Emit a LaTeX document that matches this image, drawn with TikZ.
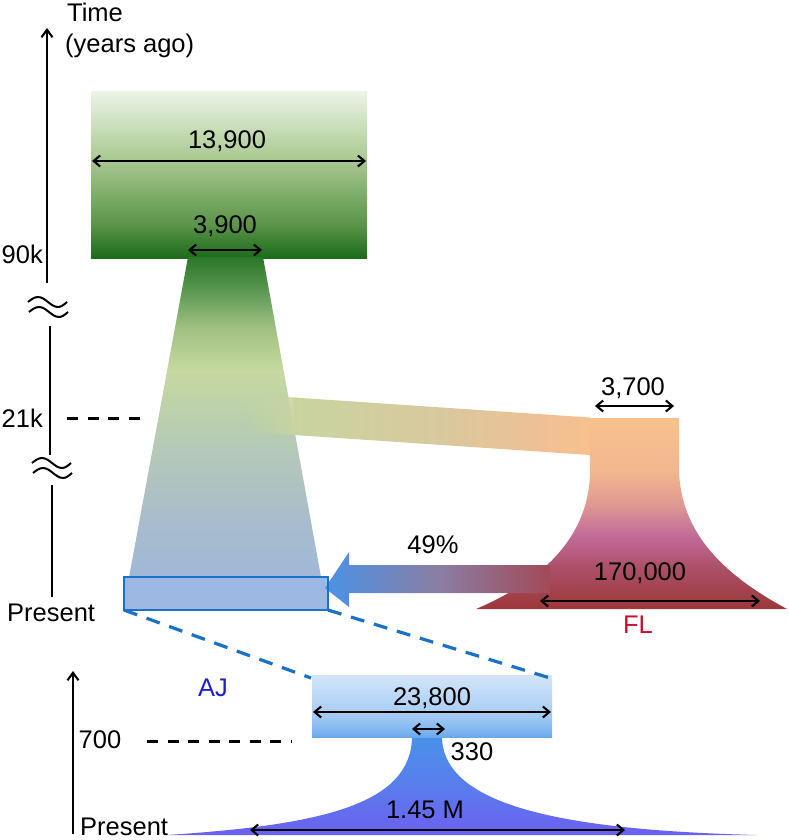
\documentclass[tikz,border=0pt]{standalone}
\usepackage{fontspec}
\setmainfont{Liberation Sans}
\usetikzlibrary{arrows.meta,fadings}
\definecolor{tbA}{HTML}{1B6B1B}
\definecolor{tbB}{HTML}{5A9448}
\definecolor{tbC}{HTML}{A8C890}
\definecolor{tbD}{HTML}{ECF3E6}
\definecolor{trA}{HTML}{9CB7E0}
\definecolor{trB}{HTML}{A8BCCC}
\definecolor{trC}{HTML}{B7CCB2}
\definecolor{trD}{HTML}{C6D9A0}
\definecolor{trE}{HTML}{A0C080}
\definecolor{trF}{HTML}{5E9A55}
\definecolor{trG}{HTML}{2A7628}
\definecolor{bandA}{HTML}{C4D4A4}
\definecolor{bandB}{HTML}{C8D4A0}
\definecolor{bandC}{HTML}{D9C89E}
\definecolor{bandD}{HTML}{EFC095}
\definecolor{bandE}{HTML}{F7C08E}
\definecolor{flA}{HTML}{F7C08E}
\definecolor{flB}{HTML}{F3B88E}
\definecolor{flC}{HTML}{E09A92}
\definecolor{flD}{HTML}{C26A98}
\definecolor{flE}{HTML}{AC5068}
\definecolor{flF}{HTML}{9C3838}
\definecolor{arA}{HTML}{4A92E6}
\definecolor{arB}{HTML}{8A7EA4}
\definecolor{arC}{HTML}{A24A58}
\definecolor{boxfill}{HTML}{9DB9E3}
\definecolor{boxblue}{HTML}{1A72C8}
\definecolor{lrA}{HTML}{D2E5FA}
\definecolor{lrB}{HTML}{AACDF3}
\definecolor{lrC}{HTML}{86BBF0}
\definecolor{lrD}{HTML}{6AA8EC}
\definecolor{nkA}{HTML}{4892E8}
\definecolor{nkB}{HTML}{5A7DED}
\definecolor{nkC}{HTML}{6B60F0}
\definecolor{ajblue}{HTML}{1E1ED2}
\definecolor{flred}{HTML}{C8102E}
\pgfdeclareverticalshading{topbox}{100bp}{color(0bp)=(tbA); color(25bp)=(tbA); color(35bp)=(tbB); color(54.5bp)=(tbC); color(75bp)=(tbD); color(100bp)=(tbD)}
\pgfdeclareverticalshading{trapez}{100bp}{color(0bp)=(trA); color(25bp)=(trA); color(37.5bp)=(trB); color(50bp)=(trC); color(59bp)=(trD); color(65bp)=(trE); color(70bp)=(trF); color(75bp)=(trG); color(100bp)=(trG)}
\pgfdeclarehorizontalshading{bandsh}{100bp}{color(0bp)=(bandB); color(25bp)=(bandB); color(50bp)=(bandC); color(66bp)=(bandD); color(75bp)=(bandE); color(100bp)=(bandE)}
\pgfdeclareverticalshading{flsh}{100bp}{color(0bp)=(flF); color(25bp)=(flF); color(36bp)=(flE); color(44bp)=(flD); color(52.5bp)=(flC); color(61.5bp)=(flB); color(75bp)=(flA); color(100bp)=(flA)}
\pgfdeclarehorizontalshading{arrsh}{100bp}{color(0bp)=(arA); color(25bp)=(arA); color(50bp)=(arB); color(75bp)=(arC); color(100bp)=(arC)}
\pgfdeclareverticalshading{lowsh}{100bp}{color(0bp)=(lrD); color(25bp)=(lrD); color(32.5bp)=(lrC); color(45bp)=(lrB); color(75bp)=(lrA); color(100bp)=(lrA)}
\pgfdeclareverticalshading{necksh}{100bp}{color(0bp)=(nkC); color(25bp)=(nkC); color(50bp)=(nkB); color(75bp)=(nkA); color(100bp)=(nkA)}
\tikzfading[name=bandfade, left color=transparent!100, right color=transparent!0]
\tikzset{
  dim/.style={line width=2.1pt, {Straight Barb[length=6.5pt,width=11pt]}-{Straight Barb[length=6.5pt,width=11pt]}},
  axisarrow/.style={line width=2.1pt, -{Straight Barb[length=7.5pt,width=11pt]}},
  axisline/.style={line width=2.1pt},
  wave/.style={line width=2pt},
  lbl/.style={font=\fontsize{25.5}{30}\selectfont, inner sep=0pt},
  blackdash/.style={line width=3pt, dash pattern=on 11pt off 9.5pt},
  bluedash/.style={line width=3.2pt, draw=boxblue, dash pattern=on 14pt off 10pt},
}
\begin{document}
\begin{tikzpicture}[x=1pt,y=-1pt]
\useasboundingbox (0,0) rectangle (788,840);
% ancestral population
\shade[shading=topbox] (91,92) rectangle (367,258);
\shade[shading=trapez] (188,257) -- (263,257) -- (327,610) -- (123,610) -- cycle;
% migration band towards FL
\shade[left color=bandA, right color=bandB, path fading=bandfade] (240,394) -- (297,397.7) -- (297,435.1) -- (240,431.5) -- cycle;
\shade[shading=bandsh] (294,397.5) -- (590,417.5) -- (590,455) -- (294,435) -- cycle;
% FL population
\shade[shading=flsh] (589,418) -- (679,418) -- (679,473) .. controls (682,520) and (705,565) .. (787,609) -- (476,609) .. controls (563,572) and (590,520) .. (590,470) -- cycle;
% AJ present box fill
\fill[boxfill] (124,577) rectangle (328,610);
% admixture arrow
\shade[shading=arrsh] (325,588) -- (349,552) -- (349,565) -- (550,565) -- (550,593) -- (349,593) -- (349,607) -- cycle;
% box outline
\node[draw=boxblue, line width=2.8pt, minimum width=204pt, minimum height=33pt, inner sep=0pt, outer sep=0pt] (box) at (226,593.5) {};
% lower panel
\shade[shading=necksh] (412,736) .. controls (412,805) and (320,825) .. (167,835) -- (757,835) .. controls (560,830) and (442,805) .. (442,736) -- cycle;
\node[shade, shading=lowsh, minimum width=240pt, minimum height=62pt, inner sep=0pt, outer sep=0pt] (lowrect) at (432,706) {};
\draw[bluedash] (box.south west) -- ([xshift=-1pt,yshift=-3pt]lowrect.north west);
\draw[bluedash] (box.south east) -- ([xshift=-2pt,yshift=-3pt]lowrect.north east);
% time axis (top)
\coordinate (axA0) at (47,283); \coordinate (axA1) at (47,28);
\draw[axisarrow] (axA0) -- (axA1);
\coordinate (axB0) at (50,326); \coordinate (axB1) at (50,455);
\draw[axisline] (axB0) -- (axB1);
\coordinate (axC0) at (52,485); \coordinate (axC1) at (52,597);
\draw[axisline] (axC0) -- (axC1);
\draw[wave] (28,302) sin (38,297) cos (48,302) sin (58,307) cos (67,302);
\draw[wave] (29,312) sin (39,307) cos (49,312) sin (59,317) cos (68,312);
\draw[wave] (32,463) sin (42,458) cos (52,463) sin (62,468) cos (71,463);
\draw[wave] (33,473) sin (43,468) cos (53,473) sin (63,478) cos (72,473);
% time axis (bottom)
\coordinate (axD0) at (73,834); \coordinate (axD1) at (73,671);
\draw[axisarrow] (axD0) -- (axD1);
% dashed time marks
\coordinate (d21a) at (67,418); \coordinate (d21b) at (146,418);
\draw[blackdash] (d21a) -- (d21b);
\coordinate (d7a) at (147,741); \coordinate (d7b) at (291,741);
\draw[blackdash] (d7a) -- (d7b);
% dimension arrows
\coordinate (w1a) at (92,161); \coordinate (w1b) at (366,161);
\draw[dim] (w1a) -- (w1b);
\coordinate (w2a) at (188,250); \coordinate (w2b) at (262,250);
\draw[dim] (w2a) -- (w2b);
\coordinate (w3a) at (595,406); \coordinate (w3b) at (674,406);
\draw[dim] (w3a) -- (w3b);
\coordinate (w4a) at (540,601); \coordinate (w4b) at (760,601);
\draw[dim] (w4a) -- (w4b);
\coordinate (w5a) at (313,712); \coordinate (w5b) at (551,712);
\draw[dim] (w5a) -- (w5b);
\coordinate (w6a) at (412,729); \coordinate (w6b) at (445,729);
\draw[dim] (w6a) -- (w6b);
\coordinate (w7a) at (250,830); \coordinate (w7b) at (625,830);
\draw[dim] (w7a) -- (w7b);
% labels
\node[lbl, anchor=base west] (ltime) at (67,22) {Time};
\node[lbl, anchor=base west] (lyears) at (65,53) {(years ago)};
\node[lbl, anchor=base east] (l90k) at (43,263) {90k};
\node[lbl, anchor=base east] (l21k) at (43,427) {21k};
\node[lbl, anchor=base west] (lpres1) at (7,621) {Present};
\node[lbl, anchor=base] (l13900) at (227,148) {13,900};
\node[lbl, anchor=base] (l3900) at (225,233) {3,900};
\node[lbl, anchor=base] (l3700) at (633,395) {3,700};
\node[lbl, anchor=base] (l49) at (433,553) {49\%};
\node[lbl, anchor=base] (l170000) at (640,580) {170,000};
\node[lbl, anchor=base, text=flred] (lFL) at (638,633) {FL};
\node[lbl, anchor=base, text=ajblue] (lAJ) at (213,696) {AJ};
\node[lbl, anchor=base] (l23800) at (432,705) {23,800};
\node[lbl, anchor=base] (l330) at (472,760) {330};
\node[lbl, anchor=base] (l700) at (100,748) {700};
\node[lbl, anchor=base] (l145) at (425,818) {1.45 M};
\node[lbl, anchor=base west] (lpres2) at (80,835) {Present};
\end{tikzpicture}
\end{document}
